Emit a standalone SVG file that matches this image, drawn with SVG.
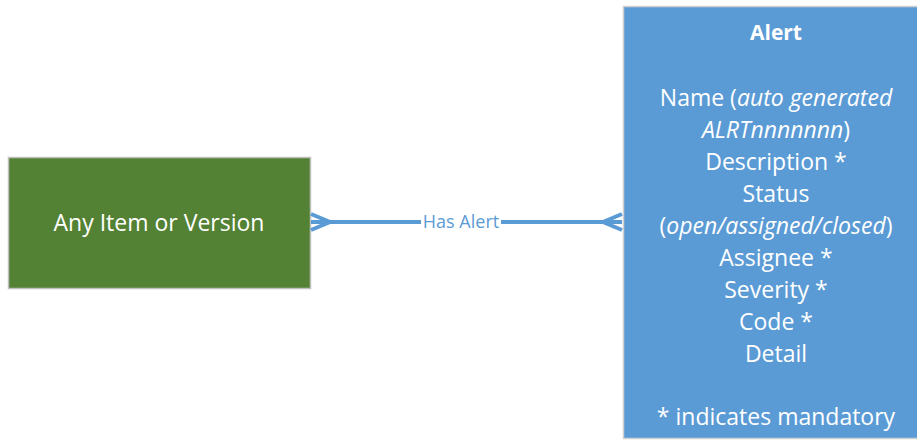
<svg xmlns="http://www.w3.org/2000/svg" width="917" height="443" viewBox="0 0 917 443">
<style>
.t{font-family:"Open Sans","Liberation Sans",sans-serif;fill:#fff;text-anchor:middle;font-size:23px}
.c{stroke:#5B9BD5;stroke-width:4;fill:none}
.lbl{font-family:"Open Sans","Liberation Sans",sans-serif;fill:#5B9BD5;font-size:18px;text-anchor:middle}
</style>
<rect width="917" height="443" fill="#fff"/>
<g id="item">
<rect x="8.5" y="157.5" width="302" height="131" fill="#548235" stroke="#BFBFBF" stroke-width="1.5"/>
<text class="t" x="159" y="231">Any Item or Version</text>
</g>
<g id="alert">
<rect x="623.5" y="6.5" width="296" height="432" fill="#5B9BD5" stroke="#D0D0D0" stroke-width="1.5"/>
<text class="t" x="776" y="40" font-weight="bold" style="font-size:21px">Alert</text>
<text class="t" x="776" y="106">Name (<tspan font-style="italic">auto generated</tspan></text>
<text class="t" x="776" y="138"><tspan font-style="italic">ALRTnnnnnnn</tspan>)</text>
<text class="t" x="776" y="170">Description *</text>
<text class="t" x="776" y="202">Status</text>
<text class="t" x="776" y="234">(<tspan font-style="italic">open/assigned/closed</tspan>)</text>
<text class="t" x="776" y="266">Assignee *</text>
<text class="t" x="776" y="298">Severity *</text>
<text class="t" x="776" y="330">Code *</text>
<text class="t" x="776" y="362">Detail</text>
<text class="t" x="776" y="425">* indicates mandatory</text>
</g>
<g id="connectors">
<path class="c" d="M311 222 H622"/>
<path class="c" d="M311 214 L330 222 L311 230 M311 222 H330"/>
<path class="c" d="M622 214 L603 222 L622 230 M622 222 H603"/>
<rect x="421" y="211" width="80" height="22" fill="#fff"/>
<text class="lbl" x="461" y="228">Has Alert</text>
</g>
</svg>
